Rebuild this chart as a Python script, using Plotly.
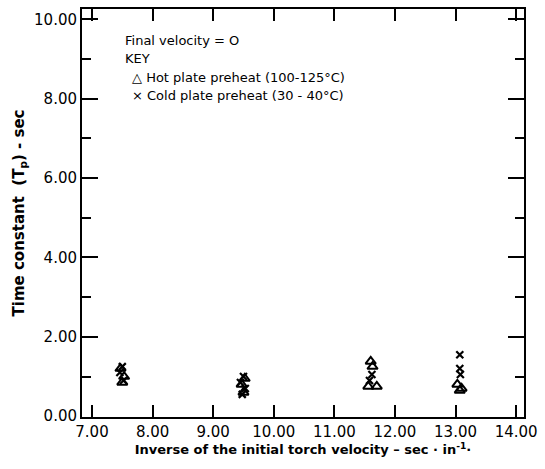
import plotly.graph_objects as go

# Data
hot_x = [7.47, 7.53, 7.50, 9.52, 9.47, 9.50, 11.60, 11.63, 11.56, 11.70, 13.03, 13.10, 13.07]
hot_y = [1.20, 1.00, 0.85, 0.95, 0.80, 0.60, 1.38, 1.25, 0.75, 0.75, 0.80, 0.70, 0.65]
cold_x = [7.50, 7.46, 7.52, 9.50, 9.45, 9.53, 9.48, 11.62, 11.58, 13.07, 13.07, 13.08]
cold_y = [1.25, 1.10, 0.90, 1.00, 0.85, 0.70, 0.55, 1.05, 0.90, 1.55, 1.20, 1.05]

x_ticks = [7, 8, 9, 10, 11, 12, 13, 14]
x_labels = ["7.00", "8.00", "9.00", "10.00", "11.00", "12.00", "13.00", "14.00"]
y_ticks = [0, 2, 4, 6, 8, 10]
y_labels = ["0.00", "2.00", "4.00", "6.00", "8.00", "10.00"]

FONT = "DejaVu Sans"

fig = go.Figure()
fig.add_trace(go.Scatter(x=hot_x, y=hot_y, mode="markers",
                         marker=dict(symbol="triangle-up-open", size=9, color="black",
                                     line=dict(width=2, color="black")),
                         showlegend=False))
fig.add_trace(go.Scatter(x=cold_x, y=cold_y, mode="markers",
                         marker=dict(symbol="x-thin-open", size=7, color="black",
                                     line=dict(width=2.2, color="black")),
                         showlegend=False))

fig.update_layout(
    width=545, height=469,
    margin=dict(l=82, r=20, t=7, b=52),
    paper_bgcolor="white", plot_bgcolor="white",
    font=dict(family=FONT, color="black", size=15),
    xaxis=dict(range=[6.835, 14.13], tickvals=x_ticks, ticktext=x_labels,
               ticks="inside", ticklen=12, tickwidth=2, tickcolor="black",
               showline=True, linecolor="black", linewidth=2, mirror="allticks",
               showgrid=False, zeroline=False,
               tickfont=dict(size=15),
               title=dict(text="<b>Inverse of the initial torch velocity – sec · in<sup>-1</sup>·</b>",
                          font=dict(size=13), standoff=5)),
    yaxis=dict(range=[-0.02, 10.26], tickvals=y_ticks, ticktext=y_labels,
               ticks="inside", ticklen=16, tickwidth=2, tickcolor="black",
               showline=True, linecolor="black", linewidth=2, mirror="allticks",
               showgrid=False, zeroline=False,
               minor=dict(tickvals=[1, 3, 5, 7, 9], ticks="inside", ticklen=9,
                          tickwidth=2, tickcolor="black"),
               tickfont=dict(size=15),
               title=dict(text="<b>Time constant  (T<sub>p</sub>) - sec</b>",
                          font=dict(size=15), standoff=6)),
)

annots = [
    (123, 39, "Final velocity = O"),
    (123, 57, "KEY"),
    (130, 76, "△ Hot plate preheat (100-125°C)"),
    (130, 94, "× Cold plate preheat (30 - 40°C)"),
]
for px, py, txt in annots:
    fig.add_annotation(x=(px - 82) / (525 - 82), y=1 - (py - 7) / (418 - 7),
                       xref="paper", yref="paper", text=txt, showarrow=False,
                       xanchor="left", yanchor="middle",
                       font=dict(family=FONT, size=13, color="black"))

fig.write_html("out.html")
